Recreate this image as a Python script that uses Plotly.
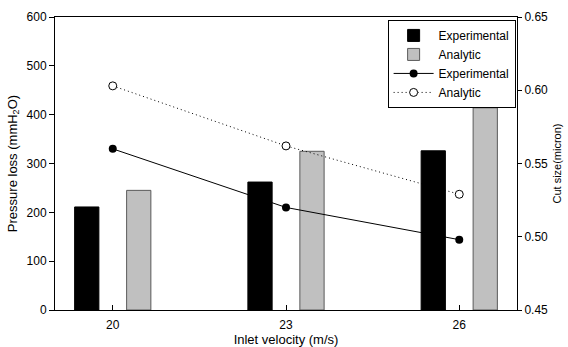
import plotly.graph_objects as go

velocity = [20, 23, 26]
pressure_exp = [211, 262, 326]
pressure_ana = [245, 325, 414]
cut_exp = [0.560, 0.520, 0.498]
cut_ana = [0.603, 0.562, 0.529]

FONT = "Liberation Sans, Arial, sans-serif"

fig = go.Figure()
fig.add_trace(go.Bar(x=velocity, y=pressure_exp, name="Experimental",
                     width=0.42, offset=-0.66,
                     marker=dict(color="black", line=dict(color="black", width=1))))
fig.add_trace(go.Bar(x=velocity, y=pressure_ana, name="Analytic",
                     width=0.42, offset=0.24,
                     marker=dict(color="#c0c0c0", line=dict(color="#5a5a5a", width=1))))
fig.add_trace(go.Scatter(x=velocity, y=cut_exp, name="Experimental", yaxis="y2",
                         mode="lines+markers",
                         line=dict(color="black", width=1),
                         marker=dict(symbol="circle", size=8, color="black")))
fig.add_trace(go.Scatter(x=velocity, y=cut_ana, name="Analytic", yaxis="y2",
                         mode="lines+markers",
                         line=dict(color="black", width=1, dash="1px,3px"),
                         marker=dict(symbol="circle", size=8, color="white",
                                     line=dict(color="black", width=1))))

fig.update_layout(
    width=568, height=347,
    margin=dict(l=55, r=51, t=17, b=37, autoexpand=False),
    paper_bgcolor="white", plot_bgcolor="white",
    font=dict(family=FONT, size=12, color="black"),
    barmode="overlay",
    showlegend=True,
    legend=dict(x=0.997, y=0.99, xanchor="right", yanchor="top",
                bgcolor="white", bordercolor="black", borderwidth=1,
                font=dict(size=12), tracegroupgap=0, itemwidth=40),
    xaxis=dict(range=[19, 27], tickvals=velocity, ticktext=[str(v) for v in velocity],
               ticks="inside", ticklen=5, tickcolor="black", ticklabelstandoff=4,
               showline=True, linecolor="black", linewidth=1, mirror=True,
               showgrid=False, zeroline=False, automargin=False,
               title=dict(text="Inlet velocity (m/s)", font=dict(size=13), standoff=1)),
    yaxis=dict(range=[0, 600], dtick=100, ticks="outside", ticklen=5, tickcolor="black",
               showline=True, linecolor="black", linewidth=1,
               showgrid=False, zeroline=False, automargin=False,
               title=dict(text="Pressure loss (mmH<sub>2</sub>O)", font=dict(size=13), standoff=6)),
    yaxis2=dict(range=[0.45, 0.65], dtick=0.05, tickformat=".2f", overlaying="y", side="right",
                ticks="outside", ticklen=4, tickcolor="black",
                showline=True, linecolor="black", linewidth=1,
                showgrid=False, zeroline=False, automargin=False,
                title=dict(text="Cut size(micron)", font=dict(size=11), standoff=6)),
)

fig.write_html("out.html", config={"displayModeBar": False},
               post_script="document.body.style.margin='0';document.body.style.overflow='hidden';")
